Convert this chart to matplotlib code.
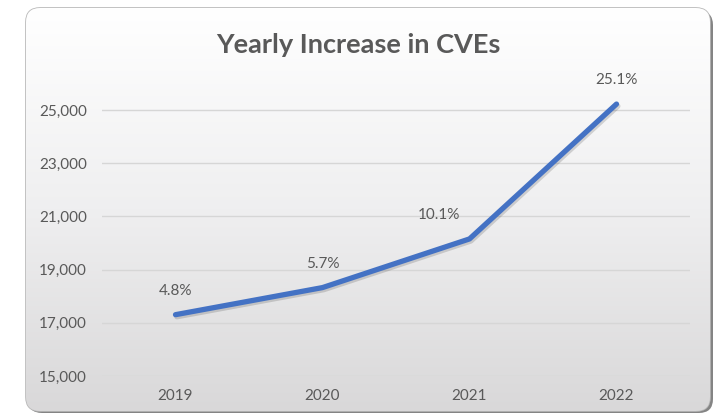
import numpy as np
import matplotlib
matplotlib.use("Agg")
import matplotlib.pyplot as plt
from matplotlib.patches import FancyBboxPatch
import matplotlib.patheffects as pe

years = ["2019", "2020", "2021", "2022"]
cves = [17306, 18325, 20155, 25227]
growth = ["4.8%", "5.7%", "10.1%", "25.1%"]
yticks = [15000, 17000, 19000, 21000, 23000, 25000]

plt.rcParams['font.family'] = ['Lato', 'DejaVu Sans']
txt = '#595959'

W, H = 716, 413
fig = plt.figure(figsize=(W / 100, H / 100), dpi=100)
fig.patch.set_facecolor('white')

# rounded frame with shadow and grey gradient
bg = fig.add_axes([0, 0, 1, 1], zorder=-10)
bg.set_xlim(0, W)
bg.set_ylim(0, H)
bg.axis('off')
shadow = FancyBboxPatch((28, 0), 685, 402, boxstyle="round,pad=0,rounding_size=14",
                        fc='#6f6f6f', ec='none', alpha=0.85)
bg.add_patch(shadow)
frame = FancyBboxPatch((26, 2), 684, 403, boxstyle="round,pad=0,rounding_size=14",
                       fc='none', ec='#b8b8b8', lw=1.2)
bg.add_patch(frame)
grad = np.linspace(0, 1, 256).reshape(-1, 1)
img = bg.imshow(grad, extent=[26, 710, 2, 405], origin='lower', aspect='auto',
                cmap=matplotlib.colors.LinearSegmentedColormap.from_list(
                    'g', ['#d9d8d9', '#efeff0', '#ffffff']), zorder=1)
img.set_clip_path(frame)

fig.text(0.5, 1 - 45 / H, "Yearly Increase in CVEs", ha='center', va='center',
         fontsize=19.5, fontweight='bold', color=txt)

ax = fig.add_axes([102 / W, 1 - 376 / H, (690 - 102) / W, (376 - 83.5) / H])
ax.set_facecolor('none')
x = np.arange(len(years))
ax.plot(x, cves, color='#4472C4', lw=3.8, solid_capstyle='round',
        path_effects=[pe.SimpleLineShadow(offset=(1, -1.5), alpha=0.15), pe.Normal()])
offsets = [(0, 17), (0, 17), (-22, 17), (0, 17)]
for xi, v, g, off in zip(x, cves, growth, offsets):
    ax.annotate(g, (xi, v), xytext=off, textcoords='offset points',
                ha='center', va='center', fontsize=11, color=txt)

ax.set_xlim(-0.5, 3.5)
ax.set_ylim(15000, 26000)
ax.set_yticks(yticks)
ax.set_yticklabels([f"{t:,}" for t in yticks])
ax.set_xticks(x)
ax.set_xticklabels(years)
ax.tick_params(length=0, labelsize=11, colors=txt)
ax.tick_params(axis='y', pad=11)
ax.tick_params(axis='x', pad=9)
ax.grid(axis='y', color='#d6d6d6', lw=1)
for s in ax.spines.values():
    s.set_visible(False)

fig.savefig("out.png", dpi=100)
